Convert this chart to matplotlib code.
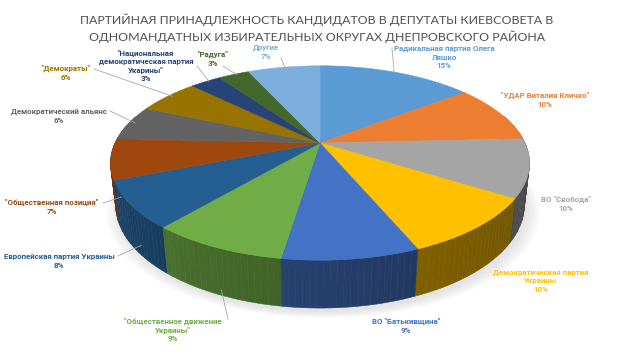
import numpy as np
import matplotlib.pyplot as plt
from matplotlib.patches import Polygon
from matplotlib.colors import to_rgb

title = ("ПАРТИЙНАЯ ПРИНАДЛЕЖНОСТЬ КАНДИДАТОВ В ДЕПУТАТЫ КИЕВСОВЕТА В\n"
         "ОДНОМАНДАТНЫХ ИЗБИРАТЕЛЬНЫХ ОКРУГАХ ДНЕПРОВСКОГО РАЙОНА")

parties = [
    "Радикальная партия Олега\nЛяшко",
    "\"УДАР Виталия Кличко\"",
    "ВО \"Свобода\"",
    "Демократическая партия\nУкраины",
    "ВО \"Батькивщина\"",
    "\"Общественное движение\nУкраины\"",
    "Европейская партия Украины",
    "\"Общественная позиция\"",
    "Демократический альянс",
    "\"Демократы\"",
    "\"Национальная\nдемократическая партия\nУкарины\"",
    "\"Радуга\"",
    "Другие",
]
shares = [15, 10, 10, 10, 9, 9, 8, 7, 6, 6, 3, 3, 7]
colors = ["#5B9BD5", "#ED7D31", "#A5A5A5", "#FFC000", "#4472C4", "#70AD47",
          "#255E91", "#9E480E", "#636363", "#997300", "#264478", "#43682B",
          "#7CAFDD"]

# label layout in pixels (text centre, leader start or None)
label_xy = [(444, 57), (545, 100), (566, 204), (541, 281), (406, 326),
            (173, 330), (59, 261), (52, 207), (59, 116), (66, 73),
            (146, 66), (213, 59), (266, 52)]
leader_from = [(392, 48), None, None, None, None,
               (228, 319), (118, 256), (103, 203), (110, 111), (94, 69),
               (197, 66), (223, 66), (281, 58)]

# 3D pie camera
tilt = np.radians(27)
dist = 4.33
focal = 205 * dist
cx, cy = 320, 143
depth = 0.23


def proj(phi, z):
    X, Y = np.cos(phi), np.sin(phi)
    yc = Y * np.sin(tilt) + z * np.cos(tilt)
    zc = dist + Y * np.cos(tilt) - z * np.sin(tilt)
    return cx + focal * X / zc, cy - focal * yc / zc, zc


fig = plt.figure(figsize=(6.35, 3.57), dpi=100)
ax = fig.add_axes([0, 0, 1, 1])
ax.set_xlim(0, 635)
ax.set_ylim(357, 0)
ax.axis("off")

total = sum(shares)
bounds = np.pi / 2 - 2 * np.pi * np.concatenate([[0], np.cumsum(shares)]) / total

# soft shadow
ring = np.linspace(0, 2 * np.pi, 200)
for k in range(6):
    sx, sy, _ = proj(ring, -depth)
    ax.add_patch(Polygon(np.c_[cx + (sx - cx) * (1.0 + 0.012 * k) + 3,
                               sy + 4 + k * 1.2],
                         closed=True, fc="#808080", ec="none", alpha=0.035,
                         zorder=1))

# side walls
segs = []
for i in range(len(shares)):
    a0, a1 = bounds[i], bounds[i + 1]
    n = max(int(abs(a1 - a0) / np.radians(1.5)), 2)
    phis = np.linspace(a0, a1, n + 1)
    base = np.array(to_rgb(colors[i]))
    for p0, p1 in zip(phis[:-1], phis[1:]):
        pm = 0.5 * (p0 + p1)
        if np.sin(pm) > 0.3:
            continue
        x0, y0, z0 = proj(p0, 0)
        x1, y1, z1 = proj(p1, 0)
        x2, y2, _ = proj(p1, -depth)
        x3, y3, _ = proj(p0, -depth)
        shade = 0.6 - 0.14 * np.cos(pm) + 0.05 * np.sin(pm)
        c = np.clip(base * shade, 0, 1)
        segs.append(((z0 + z1) / 2, [(x0, y0), (x1, y1), (x2, y2), (x3, y3)], c))
segs.sort(key=lambda s: -s[0])
for _, pts, c in segs:
    ax.add_patch(Polygon(pts, closed=True, fc=c, ec=c, lw=0.4, zorder=2))

# top faces
for i in range(len(shares)):
    phis = np.linspace(bounds[i], bounds[i + 1], 60)
    px, py, _ = proj(phis, 0)
    pts = np.r_[[[cx, cy]], np.c_[px, py]]
    ax.add_patch(Polygon(pts, closed=True, fc=colors[i], ec=colors[i],
                         lw=0.4, zorder=3))

# labels and leader lines
for i, name in enumerate(parties):
    lx, ly = label_xy[i]
    ax.text(lx, ly, f"{name}\n{shares[i]}%", ha="center", va="center",
            fontsize=5.7, fontweight="bold", family="Roboto",
            color=colors[i], linespacing=1.25, zorder=5)
    if leader_from[i] is not None:
        mid = 0.5 * (bounds[i] + bounds[i + 1])
        z = 0 if np.sin(mid) > 0 else -depth * 0.9
        ex, ey, _ = proj(mid, z)
        ex = cx + (ex - cx) * 0.97
        ax.plot([leader_from[i][0], ex], [leader_from[i][1], ey],
                color="#A6A6A6", lw=0.6, zorder=4)

ax.text(317, 28, title, ha="center", va="center", fontsize=8.9,
        family="Lato", color="#505050", linespacing=1.45)

fig.savefig("out.png", dpi=100)
